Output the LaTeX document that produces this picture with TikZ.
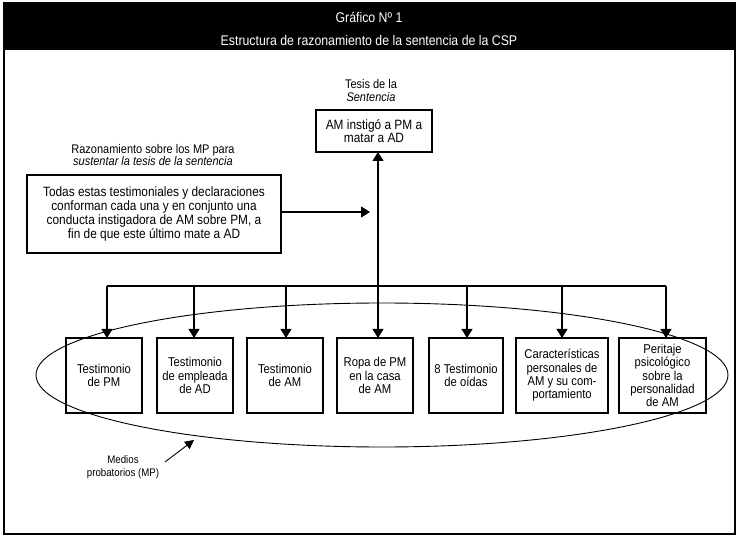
\documentclass[tikz,border=0pt]{standalone}
\usepackage{fontspec}
\setmainfont[FakeStretch=0.88]{Liberation Sans}
\usetikzlibrary{arrows.meta}
\begin{document}
\begin{tikzpicture}[x=1pt,y=-1pt,
  every node/.style={inner sep=0pt, outer sep=0pt},
  box/.style={draw, line width=1.1pt, align=center, minimum height=75pt,
    font=\fontsize{12.8}{13.3}\selectfont},
  lbl/.style={align=center, font=\fontsize{12.5}{12.5}\selectfont},
  arr/.style={line width=1.1pt, -{Triangle[width=11pt,length=9pt]}},
  ln/.style={line width=1.1pt}]
\useasboundingbox (0,0) rectangle (739,537);
% frame and title band
\fill[black] (4,3) rectangle (735,50);
\draw[line width=1.2pt] (4,3) rectangle (735,534);
\node[text=white, font=\fontsize{14}{14}\selectfont] (t1) at (369,17) {Gráfico Nº 1};
\node[text=white, font=\fontsize{14}{14}\selectfont] (t2) at (369,40) {Estructura de razonamiento de la sentencia de la CSP};
% tesis
\node[lbl, font=\fontsize{12.5}{13}\selectfont] (tesislbl) at (371,91) {Tesis de la\\\textit{Sentencia}};
\node[box, minimum width=116pt, minimum height=42pt, font=\fontsize{13.5}{13.5}\selectfont] (tesis) at (374,131) {AM instigó a PM a\\matar a AD};
% razonamiento
\node[lbl] (razlbl) at (153,155) {Razonamiento sobre los MP para\\\textit{sustentar la tesis de la sentencia}};
\node[box, minimum width=254pt, minimum height=78pt, font=\fontsize{13.5}{13.7}\selectfont] (todas) at (154,214)
  {Todas estas testimoniales y declaraciones\\conforman cada una y en conjunto una\\conducta instigadora de AM sobre PM, a\\fin de que este último mate a AD};
% ellipse
\draw[line width=0.9pt] (382,375) ellipse [x radius=346, y radius=72];
% evidence boxes
\node[box, minimum width=76pt] (b1) at (104,375.5) {Testimonio\\de PM};
\node[box, minimum width=76pt] (b2) at (195,375.5) {Testimonio\\de empleada\\de AD};
\node[box, minimum width=76pt] (b3) at (285,375.5) {Testimonio\\de AM};
\node[box, minimum width=76pt] (b4) at (375,375.5) {Ropa de PM\\en la casa\\de AM};
\node[box, minimum width=74pt] (b5) at (466,375.5) {8 Testimonio\\de oídas};
\node[box, minimum width=92pt] (b6) at (562,375.5) {Características\\personales de\\AM y su com-\\portamiento};
\node[box, minimum width=87pt] (b7) at (662.5,375.5) {Peritaje\\psicológico\\sobre la\\personalidad\\de AM};
% bus
\coordinate (bus) at (378,286);
\coordinate (busL) at (107,286);
\coordinate (busR) at (666,286);
\draw[ln] (busL) -- (busR);
\draw[arr] (bus) -- (bus |- tesis.south);
\foreach \b/\x in {b1/107,b2/194,b3/286,b4/378,b5/467,b6/562,b7/666}{
  \draw[arr] (\x,286) -- (\x,0 |- \b.north);
}
% reasoning arrow
\coordinate (tip) at (370,212);
\draw[arr] (todas.east |- tip) -- (tip);
% medios
\node[lbl, font=\fontsize{11}{13}\selectfont] (medios) at (123,467) {Medios\\probatorios (MP)};
\coordinate (mtip) at (194,440);
\coordinate (mstart) at (165,462);
\draw[line width=0.9pt, -{Triangle[width=9pt,length=9pt]}] (mstart) -- (mtip);
\end{tikzpicture}
\end{document}
